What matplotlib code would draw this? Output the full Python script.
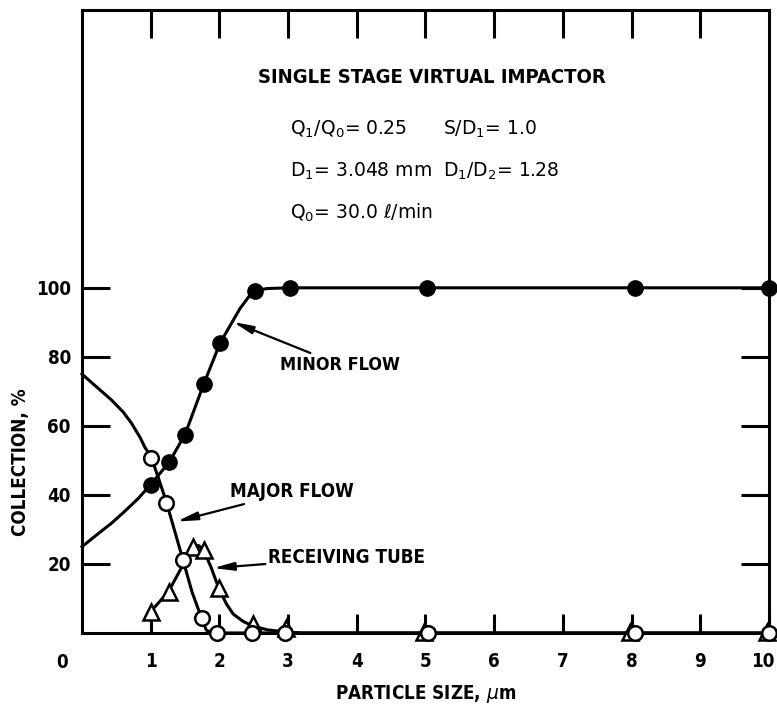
import matplotlib
matplotlib.use("Agg")
import matplotlib.pyplot as plt
from matplotlib.transforms import ScaledTranslation

# --- measured collection efficiencies (%) vs particle size (um) ---
minor_x = [1.0, 1.27, 1.5, 1.77, 2.01, 2.52, 3.03, 5.02, 8.05, 10.0]
minor_y = [43.0, 49.5, 57.5, 72.0, 84.0, 99.0, 100.0, 100.0, 100.0, 100.0]

major_x = [1.01, 1.23, 1.47, 1.74, 1.96, 2.47, 2.96, 5.04, 8.05, 10.0]
major_y = [50.8, 37.8, 21.2, 4.3, 0.0, 0.0, 0.0, 0.0, 0.0, 0.0]

tube_x = [1.0, 1.26, 1.62, 1.77, 1.99, 2.49, 2.97, 4.98, 7.98, 9.97]
tube_y = [6.2, 12.0, 25.0, 24.0, 13.0, 2.5, 1.5, 0.4, 0.4, 0.4]

# --- hand-faired curves through the data ---
minor_curve_x = [0.0, 0.2, 0.43, 0.62, 0.82, 1.0, 1.27, 1.5, 1.77, 2.01, 2.3, 2.45, 2.52, 2.7, 3.03, 10.0]
minor_curve_y = [25.0, 28.2, 31.8, 35.2, 39.0, 43.0, 49.5, 57.5, 72.0, 84.0, 94.0, 98.0, 99.2, 99.8, 100.0, 100.0]

major_curve_x = [0.0, 0.2, 0.43, 0.6, 0.72, 0.85, 0.91, 1.01, 1.12, 1.23, 1.35, 1.47, 1.6, 1.74, 1.81, 1.9, 10.0]
major_curve_y = [75.0, 71.5, 67.5, 64.0, 60.8, 56.5, 54.0, 50.8, 44.5, 37.8, 29.5, 21.2, 12.0, 4.3, 0.8, 0.0, 0.0]

tube_curve_x = [1.0, 1.26, 1.45, 1.55, 1.62, 1.7, 1.77, 1.88, 1.99, 2.1, 2.2, 2.35, 2.49, 2.7, 2.97, 3.2, 10.0]
tube_curve_y = [6.2, 12.0, 19.0, 23.5, 25.3, 25.3, 24.0, 19.0, 13.0, 8.5, 5.5, 3.3, 2.0, 0.9, 0.3, 0.0, 0.0]

x_ticks = [1, 2, 3, 4, 5, 6, 7, 8, 9, 10]
y_ticks = [20, 40, 60, 80, 100]

FONT = dict(family="DejaVu Sans", fontstretch="condensed", fontweight="bold")
PARAM = dict(family="DejaVu Sans", fontweight="normal", fontsize=13.5)

fig = plt.figure(figsize=(7.77, 7.12), dpi=100)
ax = fig.add_axes([0.1055, 0.111, 0.8842, 0.875])
ax.set_xlim(0, 10)
ax.set_ylim(0, 180.5)

lw = 2.2
ax.plot(minor_curve_x, minor_curve_y, color="black", lw=lw, zorder=2, clip_on=False)
ax.plot(major_curve_x, major_curve_y, color="black", lw=lw, zorder=2, clip_on=False)
ax.plot(tube_curve_x, tube_curve_y, color="black", lw=lw, zorder=2, clip_on=False)

ax.plot(tube_x, tube_y, linestyle="none", marker="^", ms=11, mfc="white",
        mec="black", mew=1.8, zorder=3, clip_on=False)
ax.plot(minor_x, minor_y, linestyle="none", marker="o", ms=11, mfc="black",
        mec="black", zorder=4, clip_on=False)
ax.plot(major_x, major_y, linestyle="none", marker="o", ms=10.5, mfc="white",
        mec="black", mew=1.8, zorder=5, clip_on=False)

for s in ax.spines.values():
    s.set_linewidth(2.2)

ax.set_xticks(x_ticks)
ax.set_yticks(y_ticks)
ax.tick_params(axis="both", which="major", direction="in", width=2.2,
               labelsize=13.5, colors="black")
ax.tick_params(axis="y", length=20, right=True, pad=8)
ax.tick_params(axis="x", length=14, top=True, pad=14)
for lab in ax.get_xticklabels() + ax.get_yticklabels():
    lab.set_fontstretch("condensed")
    lab.set_fontweight("bold")
# longer ticks along the top edge
for t in ax.xaxis.get_major_ticks():
    t.tick2line.set_markersize(20)
ax.xaxis.get_major_ticks()[-1].tick2line.set_visible(False)
# keep the last x label inside the figure
last = ax.get_xticklabels()[-1]
last.set_transform(last.get_transform() + ScaledTranslation(-6 / 100, 0, fig.dpi_scale_trans))

ax.text(-0.29, -0.047, "0", transform=ax.get_xaxis_transform(), ha="center",
        va="center", fontsize=13.5, **FONT)

ax.set_xlabel("PARTICLE SIZE, $\\mu$m", fontsize=13.5, labelpad=8, **FONT)
ax.set_ylabel("COLLECTION, %", fontsize=13.5, **FONT)
ax.yaxis.set_label_coords(-0.076, 0.274)

ax.text(5.09, 160.9, "SINGLE STAGE VIRTUAL IMPACTOR", ha="center", va="center",
        fontsize=14.5, **FONT)
ax.text(3.03, 145.8, "$\\mathregular{Q_1/Q_0}$= 0.25", ha="left", va="center", **PARAM)
ax.text(5.26, 145.8, "$\\mathregular{S/D_1}$= 1.0", ha="left", va="center", **PARAM)
ax.text(3.03, 133.6, "$\\mathregular{D_1}$= 3.048 mm", ha="left", va="center", **PARAM)
ax.text(5.26, 133.6, "$\\mathregular{D_1/D_2}$= 1.28", ha="left", va="center", **PARAM)
ax.text(3.03, 121.7, "$\\mathregular{Q_0}$= 30.0 $\\ell$/min", ha="left", va="center", **PARAM)

arrow = dict(arrowstyle="-|>,head_length=0.9,head_width=0.18", color="black", lw=1.6,
             shrinkA=0, shrinkB=0)
ax.annotate("MINOR FLOW", xy=(2.2, 90.1), xytext=(2.88, 77.7), ha="left", va="center",
            fontsize=13, arrowprops=arrow, **FONT)
ax.annotate("MAJOR FLOW", xy=(1.38, 32.3), xytext=(2.15, 40.9), ha="left", va="center",
            fontsize=13.5, arrowprops=arrow, **FONT)
ax.annotate("RECEIVING TUBE", xy=(1.91, 18.8), xytext=(2.71, 21.8), ha="left", va="center",
            fontsize=13.5, arrowprops=arrow, **FONT)

fig.savefig("out.png", dpi=100)
